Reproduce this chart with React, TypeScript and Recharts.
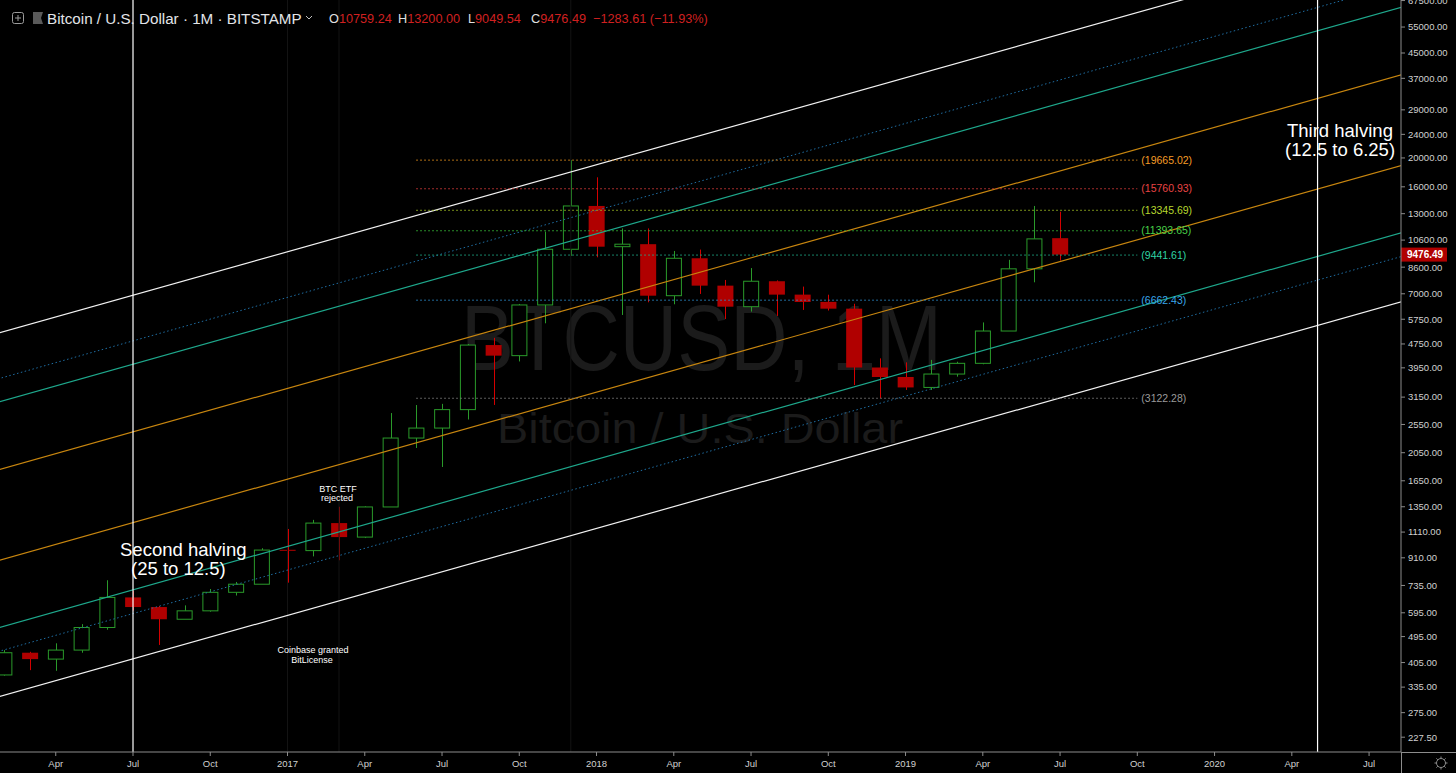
import React from "react";
import { ComposedChart, Bar, XAxis, YAxis, ReferenceLine } from "recharts";

// month index counted from Jan 2016 = 0
const candleMonths = [
  1, 2, 3, 4, 5, 6, 7, 8, 9, 10, 11, 12, 13, 14, 15, 16, 17, 18, 19, 20, 21,
  22, 23, 24, 25, 26, 27, 28, 29, 30, 31, 32, 33, 34, 35, 36, 37, 38, 39, 40,
  41, 42,
];
const opens = [
  368, 437, 416, 446, 531, 670, 622, 566, 604, 697, 742, 968, 962, 1190, 1068,
  1348, 2296, 2480, 2860, 4710, 4340, 6421, 9874, 13800, 10074, 10270, 6898,
  9211, 7455, 6336, 7713, 6955, 6575, 6240, 3960, 3680, 3395, 3765, 4090, 5250,
  8490, 10759.24,
];
const highs = [
  446, 440, 470, 545, 765, 704, 627, 630, 715, 755, 980, 1137, 1220, 1350, 1355,
  2785, 2963, 2990, 4750, 4980, 6470, 11316, 19665.02, 17220, 11600, 11600,
  9745, 9850, 7790, 8540, 7760, 7400, 6950, 6480, 4250, 4120, 4200, 4140, 5610,
  9100, 13800, 13200,
];
const lows = [
  366, 382, 380, 437, 522, 605, 464, 566, 600, 680, 742, 751, 920, 893, 1060,
  1348, 2126, 1836, 2650, 2965, 4150, 5573, 9380, 9282, 5943, 6555, 6455, 6992,
  5760, 6100, 5900, 6180, 6150, 3459, 3122.28, 3330, 3330, 3690, 4060, 5250,
  7650, 9049.54,
];
const closes = [
  437, 416, 446, 531, 670, 622, 566, 604, 697, 742, 966, 962, 1190, 1068, 1348,
  2296, 2480, 2860, 4710, 4340, 6421, 9874, 13800, 10074, 10270, 6898, 9211,
  7455, 6336, 7713, 6955, 6570, 6240, 3960, 3680, 3395, 3765, 4090, 5250, 8490,
  10700, 9476.49,
];

const xTicks = [3, 6, 9, 12, 15, 18, 21, 24, 27, 30, 33, 36, 39, 42, 45, 48, 51, 54];
const xTickLabels = [
  "Apr", "Jul", "Oct", "2017", "Apr", "Jul", "Oct", "2018", "Apr", "Jul", "Oct",
  "2019", "Apr", "Jul", "Oct", "2020", "Apr", "Jul",
];
const yTicks = [
  227.5, 275, 335, 405, 495, 595, 735, 910, 1110, 1350, 1650, 2050, 2550, 3150,
  3950, 4750, 5750, 7000, 8600, 10600, 13000, 16000, 20000, 24000, 29000, 37000,
  45000, 55000, 67500,
];

// parallel channel lines, price at month 0 and at month 56
const CH_FROM = 0;
const CH_TO = 56;
const channelStart = [4945, 3476, 2901, 1720.8, 853.7, 507.5, 422.6, 297.8];
const channelEnd = [113931, 80092, 66843, 39642, 19668, 11692, 9735, 6860];
const channelColors = ["#f2f2f2", "#1f6ea3", "#1ea88c", "#c8860f", "#c8860f", "#1ea88c", "#1f6ea3", "#f2f2f2"];
const channelDotted = [false, true, false, false, false, false, true, false];

// fib retracement Dec 2017 high -> Dec 2018 low
const FIB_FROM = 17;
const FIB_TO = 45;
const fibLevels = [19665.02, 15760.93, 13345.69, 11393.65, 9441.61, 6662.43, 3122.28];
const fibColors = ["#e8921c", "#d63a3a", "#9fbf22", "#36b936", "#1fae8a", "#2c8dcc", "#7a7a7a"];
const fibTextColors = ["#f59c26", "#e84444", "#b6d72e", "#48d048", "#2fd4a4", "#3aa8ec", "#9a9a9a"];

const halvingMonths = [6, 52];
const eventMonths = [12, 14, 23];

const lastClose = closes[closes.length - 1];

const X_MIN = 0.835;
const X_MAX = 55.24;
const Y_MIN = 202.9;
const Y_MAX = 67780;

const UP = "#2a9a2a";
const DOWN = "#b00000";
const DOWN_WICK = "#d40000";
const AXIS = "#8c8c8c";
const FONT = "'Liberation Sans', Arial, sans-serif";

const data = candleMonths.map((t, i) => ({
  t,
  open: opens[i],
  high: highs[i],
  low: lows[i],
  close: closes[i],
}));

const xLabel = (v: number) => {
  const i = xTicks.indexOf(v);
  return i >= 0 ? xTickLabels[i] : "";
};

const Candle = (props: any) => {
  const { x, y, width, height, payload } = props;
  if (!payload || !isFinite(y) || !isFinite(height) || height <= 0) return null;
  const { open, high, low, close } = payload;
  const lh = Math.log(high);
  const span = lh - Math.log(low);
  const py = (p: number) => y + (height * (lh - Math.log(p))) / span;
  const cx = Math.round(x + width / 2) + 0.5;
  const top = py(Math.max(open, close));
  const bot = py(Math.min(open, close));
  const h = Math.max(bot - top, 1);
  if (close >= open) {
    return (
      <g>
        <line x1={cx} x2={cx} y1={y} y2={top} stroke={UP} />
        <line x1={cx} x2={cx} y1={top + h} y2={y + height} stroke={UP} />
        <rect x={x + 0.5} y={top} width={width - 1} height={h} fill="#000" stroke={UP} />
      </g>
    );
  }
  return (
    <g>
      <line x1={cx} x2={cx} y1={y} y2={y + height} stroke={DOWN_WICK} />
      <rect x={x} y={top} width={width} height={h} fill={DOWN} />
    </g>
  );
};

const PriceTag = ({ viewBox }: any) => {
  if (!viewBox) return null;
  const x = viewBox.x + viewBox.width;
  return (
    <g>
      <rect x={x} y={viewBox.y - 7} width={46} height={14} fill="#b00000" />
      <text x={x + 6} y={viewBox.y + 3.5} fill="#fff" fontSize={10} fontWeight="bold" fontFamily={FONT}>
        {lastClose.toFixed(2)}
      </text>
    </g>
  );
};

export default function App() {
  return (
    <div style={{ position: "absolute", left: 0, top: 0, width: 1456, height: 773, background: "#000", overflow: "hidden", fontFamily: FONT }}>
      <svg width={1456} height={773} style={{ position: "absolute", left: 0, top: 0 }}>
        <text x={461} y={370} fontSize={93} fill="#1b1b1b" textLength={481} lengthAdjust="spacingAndGlyphs" fontFamily={FONT}>
          BTCUSD, 1M
        </text>
        <text x={497} y={443} fontSize={42} fill="#1b1b1b" textLength={406} lengthAdjust="spacingAndGlyphs" fontFamily={FONT}>
          Bitcoin / U.S. Dollar
        </text>
      </svg>
      <div style={{ position: "absolute", left: 0, top: 0 }}>
        <ComposedChart width={1456} height={773} data={data} margin={{ top: 0, right: 0, bottom: 0, left: 0 }}>
          <XAxis
            dataKey="t"
            type="number"
            domain={[X_MIN, X_MAX]}
            allowDataOverflow
            ticks={xTicks}
            interval={0}
            tickFormatter={xLabel}
            height={21}
            tickSize={4}
            tickMargin={4}
            axisLine={{ stroke: AXIS }}
            tickLine={{ stroke: AXIS }}
            tick={{ fill: "#d0d0d0", fontSize: 9.5, fontFamily: FONT }}
          />
          <YAxis
            orientation="right"
            scale="log"
            domain={[Y_MIN, Y_MAX]}
            allowDataOverflow
            ticks={yTicks}
            interval={0}
            tickFormatter={(v: number) => v.toFixed(2)}
            width={55}
            tickSize={4}
            tickMargin={3}
            axisLine={{ stroke: AXIS }}
            tickLine={{ stroke: AXIS }}
            tick={{ fill: "#d0d0d0", fontSize: 9.5, fontFamily: FONT }}
          />
          {eventMonths.map((m) => (
            <ReferenceLine key={`ev-${m}`} x={m} stroke="#131313" ifOverflow="hidden" />
          ))}
          {channelStart.map((p, i) => (
            <ReferenceLine
              key={`ch-${i}`}
              segment={[
                { x: CH_FROM, y: p },
                { x: CH_TO, y: channelEnd[i] },
              ]}
              stroke={channelColors[i]}
              strokeWidth={channelDotted[i] ? 1 : 1.2}
              strokeDasharray={channelDotted[i] ? "1.5 2.5" : undefined}
              ifOverflow="hidden"
            />
          ))}
          {fibLevels.map((lv, i) => (
            <ReferenceLine
              key={`fib-${i}`}
              segment={[
                { x: FIB_FROM, y: lv },
                { x: FIB_TO, y: lv },
              ]}
              stroke={fibColors[i]}
              strokeDasharray="1.5 2.5"
              ifOverflow="visible"
              label={{
                value: `(${lv.toFixed(2)})`,
                position: "right",
                offset: 4,
                fill: fibTextColors[i],
                fontSize: 10.5,
                fontFamily: FONT,
              }}
            />
          ))}
          {halvingMonths.map((m) => (
            <ReferenceLine key={`hv-${m}`} x={m} stroke="#ffffff" strokeWidth={1.2} ifOverflow="hidden" />
          ))}
          <Bar
            dataKey={(d: any) => [d.low, d.high]}
            barSize={16}
            shape={Candle}
            isAnimationActive={false}
          />
          <ReferenceLine y={lastClose} stroke="none" strokeOpacity={0} ifOverflow="visible" label={<PriceTag />} />
        </ComposedChart>
      </div>
      <svg width={1456} height={773} style={{ position: "absolute", left: 0, top: 0, pointerEvents: "none" }} fontFamily={FONT}>
        <line x1={1401} x2={1456} y1={752.5} y2={752.5} stroke={AXIS} />
        <line x1={1401.5} x2={1401.5} y1={752} y2={773} stroke={AXIS} />
        <g stroke="#8c8c8c" fill="none">
          <circle cx={1441} cy={763} r={4.5} />
          {[0, 45, 90, 135, 180, 225, 270, 315].map((a) => (
            <line
              key={a}
              x1={1441 + 4.5 * Math.cos((a * Math.PI) / 180)}
              y1={763 + 4.5 * Math.sin((a * Math.PI) / 180)}
              x2={1441 + 6.5 * Math.cos((a * Math.PI) / 180)}
              y2={763 + 6.5 * Math.sin((a * Math.PI) / 180)}
            />
          ))}
        </g>

        <rect x={12.5} y={12.5} width={11} height={11} rx={2} fill="none" stroke="#9a9a9a" />
        <line x1={15} x2={21} y1={18} y2={18} stroke="#9a9a9a" />
        <line x1={18} x2={18} y1={15} y2={21} stroke="#9a9a9a" />
        <path d="M33 12 H43 L41 18 L43 24 H33 Z" fill="#5a5a5a" />
        <text x={47} y={23.5} fontSize={15.2} fill="#e2e4e8">
          Bitcoin / U.S. Dollar · 1M · BITSTAMP
        </text>
        <path d="M306 16 L309 19 L312 16" stroke="#c0c0c0" fill="none" />
        <text y={23} fontSize={12.7}>
          <tspan x={329} fill="#e0e0e0">O</tspan>
          <tspan fill="#d02020">10759.24</tspan>
          <tspan x={398} fill="#e0e0e0">H</tspan>
          <tspan fill="#d02020">13200.00</tspan>
          <tspan x={468} fill="#e0e0e0">L</tspan>
          <tspan fill="#d02020">9049.54</tspan>
          <tspan x={531} fill="#e0e0e0">C</tspan>
          <tspan fill="#d02020">9476.49</tspan>
          <tspan x={593} fill="#d02020">−1283.61 (−11.93%)</tspan>
        </text>

        <g fill="#ffffff">
          <text x={120} y={556} fontSize={18.5}>Second halving</text>
          <text x={131} y={575} fontSize={18.5}>(25 to 12.5)</text>
          <text x={1287} y={137} fontSize={18.5}>Third halving</text>
          <text x={1285} y={156} fontSize={18.5}>(12.5 to 6.25)</text>
          <text x={338} y={492} fontSize={9} textAnchor="middle">BTC ETF</text>
          <text x={337} y={501} fontSize={9} textAnchor="middle">rejected</text>
          <text x={313} y={653} fontSize={9} textAnchor="middle">Coinbase granted</text>
          <text x={312} y={663} fontSize={9} textAnchor="middle">BitLicense</text>
        </g>
      </svg>
    </div>
  );
}
